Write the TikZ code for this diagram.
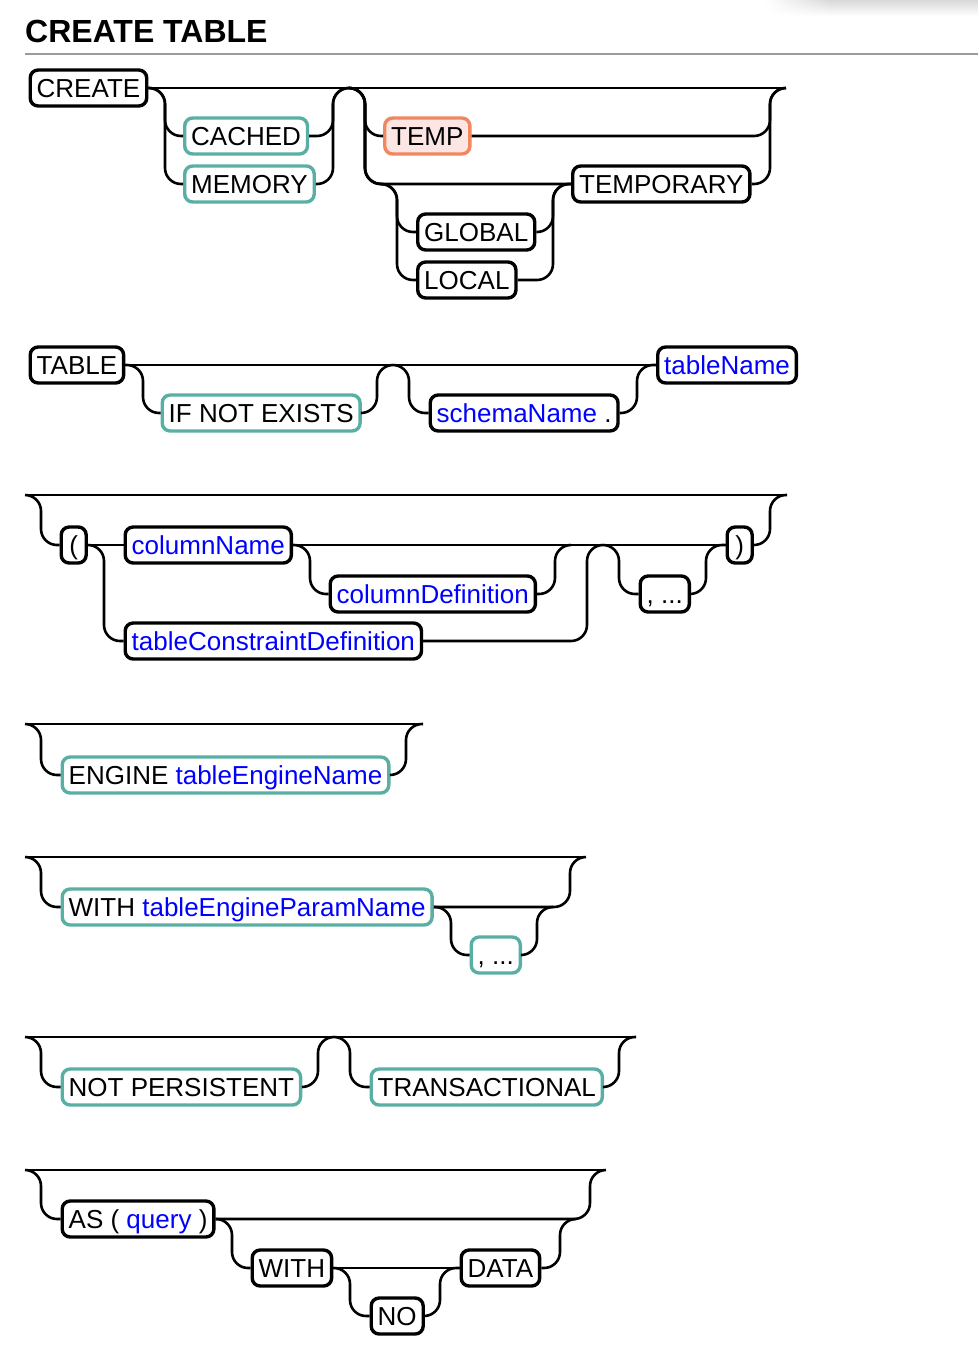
\documentclass[tikz,border=0pt]{standalone}
\usepackage{fontspec}
\setmainfont{Liberation Sans}
\usetikzlibrary{fadings}
\definecolor{teal1}{RGB}{90,175,165}
\definecolor{orange1}{RGB}{240,135,95}
\definecolor{orangefill}{RGB}{251,230,228}
\definecolor{idblue}{RGB}{0,0,255}
\definecolor{rulegray}{RGB}{155,155,155}
\newcommand{\idn}[1]{\textcolor{idblue}{#1}}
\tikzfading[name=fadedown, top color=transparent!0, bottom color=transparent!100]
\tikzset{
  box/.style={draw=black, line width=3.4pt, rounded corners=8pt, fill=white,
    minimum height=36pt, inner xsep=6.5pt, inner ysep=2pt,
    text height=18.7pt, text depth=0pt, anchor=west,
    font=\fontsize{26}{30}\selectfont},
  kw/.style={box},
  opt/.style={box, draw=teal1},
  tmp/.style={box, draw=orange1, fill=orangefill},
  rail/.style={line width=2.6pt, rounded corners=16pt},
  paren/.style={box, minimum width=25pt, inner xsep=2pt},
}
\begin{document}
\begin{tikzpicture}[x=1pt,y=-1pt]
\useasboundingbox (0,0) rectangle (978,1350);
% browser shadow
\fill[black!15, path fading=fadedown] (830,0) rectangle (978,16);
\shade[left color=white, right color=black!15, path fading=fadedown] (765,0) rectangle (830,16);
% title
\node[font=\bfseries\fontsize{32}{36}\selectfont, anchor=base west, inner sep=0pt] (title) at (25,42.3) {CREATE TABLE};
\draw[rulegray, line width=2pt] (25,53.5) -- (978,53.5);

% ---------- Row 1
\node[kw] (create) at (28.5,88) {CREATE};
\node[opt] (cached) at (183,136) {CACHED};
\node[opt] (memory) at (183,184) {MEMORY};
\node[tmp] (temp) at (383,136) {TEMP};
\node[kw] (temporary) at (571,184) {TEMPORARY};
\node[kw] (global) at (416,232) {GLOBAL};
\node[kw] (local) at (416,280) {LOCAL};
\coordinate (e1) at (786,88);
\coordinate (j1) at (349,88);
\draw[rail] (create.east) -- (e1);
\draw[rail] (create.east) -- (165,88) -- (165,136) -- (cached.west);
\draw[rail] (create.east) -- (165,88) -- (165,184) -- (memory.west);
\draw[rail] (cached.east) -- (333,136) -- (333,88) -- (365,88) -- (365,136) -- (temp.west);
\draw[rail] (memory.east) -- (333,184) -- (333,88) -- (j1);
\draw[rail] (j1) -- (365,88) -- (365,184) -- (temporary.west);
\draw[rail] (j1) -- (365,88) -- (365,184) -- (397,184) -- (397,232) -- (global.west);
\draw[rail] (j1) -- (365,88) -- (365,184) -- (397,184) -- (397,280) -- (local.west);
\draw[rail] (global.east) -- (553,232) -- (553,184) -- (temporary.west);
\draw[rail] (local.east) -- (553,280) -- (553,184) -- (569,184);
\draw[rail] (temp.east) -- (770,136) -- (770,88) -- (e1);
\draw[rail] (temporary.east) -- (770,184) -- (770,88) -- (e1);

% ---------- Row 2
\node[kw] (table) at (28.5,365) {TABLE};
\node[opt] (ifne) at (160.5,413) {IF NOT EXISTS};
\node[kw] (schema) at (428.5,413) {\idn{schemaName} .};
\node[kw] (tablename) at (656,365) {\idn{tableName}};
\draw[rail] (table.east) -- (tablename.west);
\draw[rail] (table.east) -- (143,365) -- (143,413) -- (ifne.west);
\draw[rail] (ifne.east) -- (377,413) -- (377,365) -- (409,365) -- (409,413) -- (schema.west);
\draw[rail] (schema.east) -- (637,413) -- (637,365) -- (tablename.west);

% ---------- Row 3
\coordinate (s3) at (25,495);
\coordinate (e3) at (787,495);
\node[paren] (lp) at (59.5,545) {(};
\node[kw] (colname) at (123.5,545) {\idn{columnName}};
\node[kw] (coldef) at (328.5,594) {\idn{columnDefinition}};
\node[kw] (tcd) at (123.5,641) {\idn{tableConstraintDefinition}};
\node[kw] (more1) at (638.5,594) {, ...};
\node[paren] (rp) at (725.5,545) {)};
\draw[rail] (s3) -- (e3);
\draw[rail] (s3) -- (41,495) -- (41,545) -- (lp.west);
\draw[rail] (lp.east) -- (colname.west);
\draw[rail] (lp.east) -- (104,545) -- (104,641) -- (tcd.west);
\draw[rail] (colname.east) -- (rp.west);
\draw[rail] (colname.east) -- (310,545) -- (310,594) -- (coldef.west);
\draw[rail] (coldef.east) -- (555,594) -- (555,545) -- (571,545);
\draw[rail] (tcd.east) -- (587,641) -- (587,545) -- (619,545) -- (619,594) -- (more1.west);
\draw[rail] (more1.east) -- (706,594) -- (706,545) -- (rp.west);
\draw[rail] (rp.east) -- (770,545) -- (770,495) -- (e3);

% ---------- Row 4
\coordinate (s4) at (25,724);
\coordinate (e4) at (423,724);
\node[opt] (engine) at (60.5,775) {ENGINE \idn{tableEngineName}};
\draw[rail] (s4) -- (e4);
\draw[rail] (s4) -- (41,724) -- (41,775) -- (engine.west);
\draw[rail] (engine.east) -- (406,775) -- (406,724) -- (e4);

% ---------- Row 5
\coordinate (s5) at (25,857);
\coordinate (e5) at (586,857);
\node[opt] (withp) at (60.5,907) {WITH \idn{tableEngineParamName}};
\node[opt] (more2) at (469.5,955) {, ...};
\draw[rail] (s5) -- (e5);
\draw[rail] (s5) -- (41,857) -- (41,907) -- (withp.west);
\draw[rail] (withp.east) -- (570,907) -- (570,857) -- (e5);
\draw[rail] (withp.east) -- (451,907) -- (451,955) -- (more2.west);
\draw[rail] (more2.east) -- (537,955) -- (537,907) -- (553,907);

% ---------- Row 6
\coordinate (s6) at (25,1037);
\coordinate (e6) at (636,1037);
\node[opt] (notp) at (60.5,1087) {NOT PERSISTENT};
\node[opt] (trans) at (369.5,1087) {TRANSACTIONAL};
\draw[rail] (s6) -- (e6);
\draw[rail] (s6) -- (41,1037) -- (41,1087) -- (notp.west);
\draw[rail] (notp.east) -- (318,1087) -- (318,1037) -- (350,1037) -- (350,1087) -- (trans.west);
\draw[rail] (trans.east) -- (619,1087) -- (619,1037) -- (e6);

% ---------- Row 7
\coordinate (s7) at (25,1170);
\coordinate (e7) at (606,1170);
\node[kw] (as) at (60.5,1219) {AS ( \idn{query} )};
\node[kw] (withk) at (250.5,1268) {WITH};
\node[kw] (no) at (369.5,1316) {NO};
\node[kw] (data) at (459.5,1268) {DATA};
\draw[rail] (s7) -- (e7);
\draw[rail] (s7) -- (41,1170) -- (41,1219) -- (as.west);
\draw[rail] (as.east) -- (590,1219) -- (590,1170) -- (e7);
\draw[rail] (as.east) -- (232,1219) -- (232,1268) -- (withk.west);
\draw[rail] (withk.east) -- (data.west);
\draw[rail] (withk.east) -- (350,1268) -- (350,1316) -- (no.west);
\draw[rail] (no.east) -- (440,1316) -- (440,1268) -- (data.west);
\draw[rail] (data.east) -- (560,1268) -- (560,1219) -- (576,1219);
\end{tikzpicture}
\end{document}
